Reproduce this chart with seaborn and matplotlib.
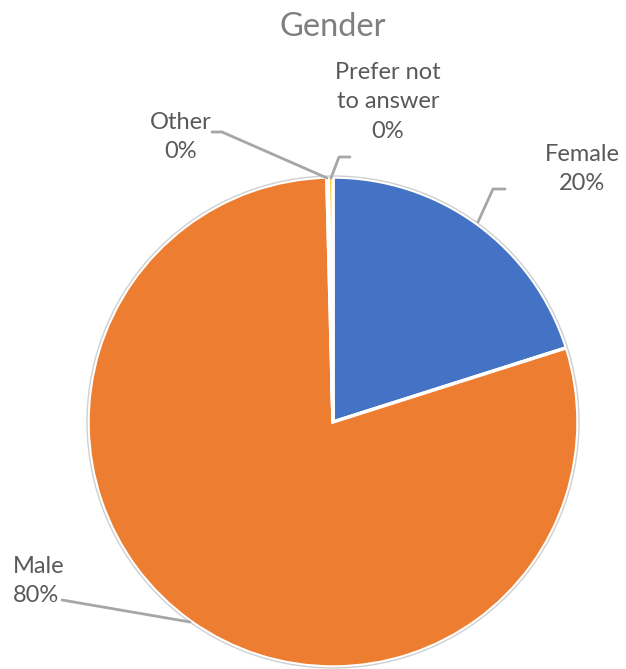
import matplotlib
matplotlib.use("Agg")
import matplotlib.pyplot as plt
import seaborn as sns

categories = ["Female", "Male", "Other", "Prefer not to answer"]
values = [20.1, 79.5, 0.1, 0.3]
label_texts = ["Female\n20%", "Male\n80%", "Other\n0%", "Prefer not\nto answer\n0%"]
colors = ["#4472C4", "#ED7D31", "#A5A5A5", "#FFC000"]

sns.set_theme(style="white")
plt.rcParams['font.family'] = ['Lato', 'DejaVu Sans']

fig = plt.figure(figsize=(6.26, 6.69), dpi=100)
ax = fig.add_axes([0, 0, 1, 1])

cx, cy, r = 333, 669 - 422, 245
ax.pie(values, colors=colors, startangle=90, counterclock=False,
       radius=r, center=(cx, cy), frame=True,
       wedgeprops=dict(edgecolor='white', linewidth=2.5))
ax.add_patch(plt.Circle((cx, cy), r + 1, fill=False, edgecolor='#D0D0D0', linewidth=1))
ax.set_xlim(0, 626)
ax.set_ylim(0, 669)
ax.set_aspect('equal')
ax.axis('off')

def Y(y):
    return 669 - y

txt = dict(color='#595959', fontsize=17, ha='center', va='center', linespacing=1.5)
lc = dict(color='#A6A6A6', lw=2)

# Female
ax.text(582, Y(169), label_texts[0], **txt)
ax.plot([478, 493, 505], [Y(222), Y(189), Y(189)], **lc)
# Male
ax.text(13, Y(581), label_texts[1], **{**txt, 'ha': 'left'})
ax.plot([62, 190], [Y(600), Y(622)], **lc)
# Other
ax.text(181, Y(137), label_texts[2], **txt)
ax.plot([212, 222, 327], [Y(132), Y(132), Y(178)], **lc)
# Prefer not to answer
ax.text(388, Y(102), label_texts[3], **txt)
ax.plot([331, 339, 350], [Y(178), Y(157), Y(157)], **lc)

ax.text(333, Y(27), "Gender", color='#7F7F7F', fontsize=23.5, ha='center', va='center')

fig.savefig("out.png", dpi=100)
